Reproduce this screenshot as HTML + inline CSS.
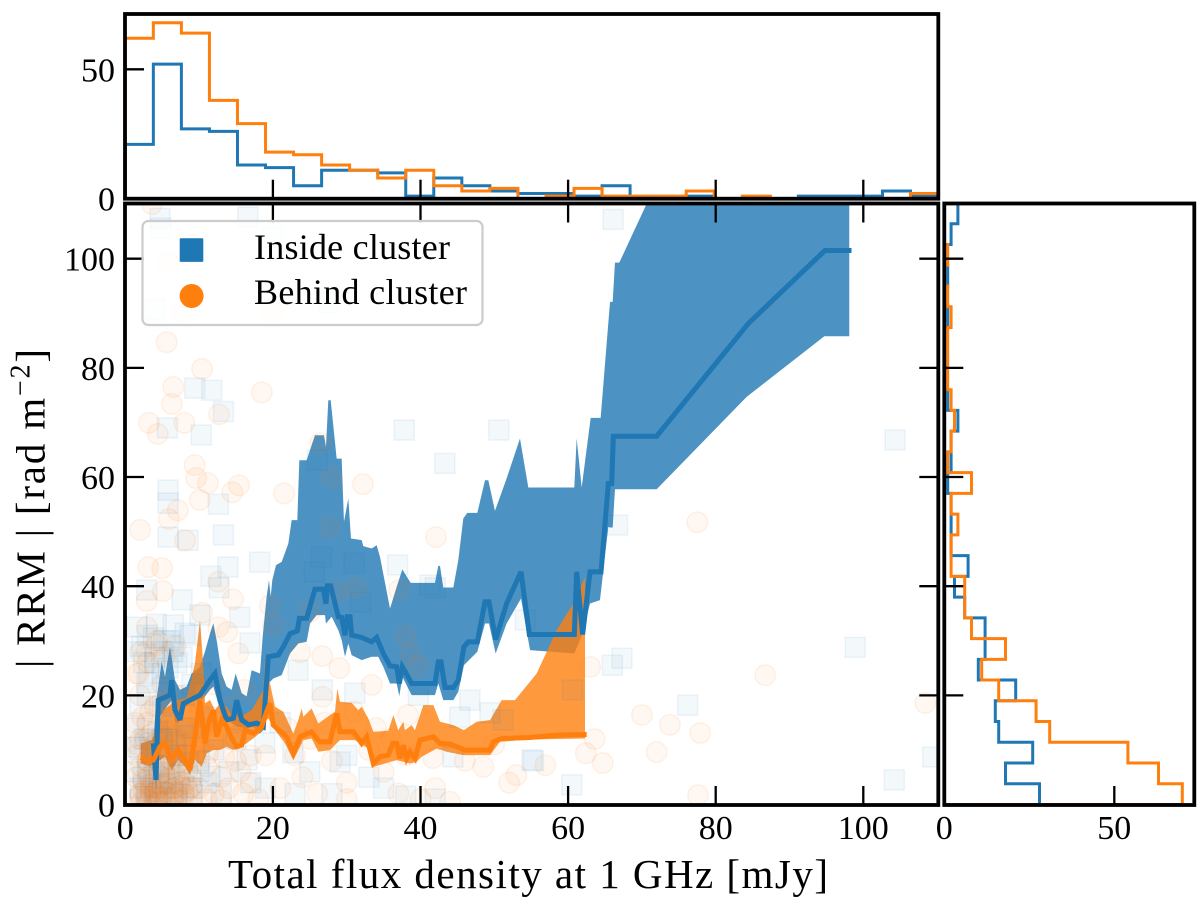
<!DOCTYPE html>
<html lang="en">
<head>
<meta charset="utf-8">
<title>RRM vs total flux density</title>
<style>
  html, body { margin: 0; padding: 0; background: #fff; }
  svg { display: block; font-family: "Liberation Serif", serif; }
  text { fill: #000; }
</style>
</head>
<body>
<svg id="chart" xmlns="http://www.w3.org/2000/svg" width="1200" height="898" viewBox="0 0 1200 898">
  <defs>
    <clipPath id="clip-main"><rect x="125" y="203.5" width="813.3" height="601.5"/></clipPath>
    <clipPath id="clip-top"><rect x="125" y="14" width="813.3" height="184.7"/></clipPath>
    <clipPath id="clip-right"><rect x="944.3" y="203.5" width="250" height="601.5"/></clipPath>
  </defs>
  <g id="main-bands" clip-path="url(#clip-main)"></g>
  <g id="main-scatter" clip-path="url(#clip-main)"></g>
  <g id="main-lines" clip-path="url(#clip-main)"></g>
  <g id="top-hist" clip-path="url(#clip-top)"></g>
  <g id="right-hist" clip-path="url(#clip-right)"></g>
  <g id="ticks"></g>
  <g id="labels"></g>
  <g fill="none" stroke="#000" stroke-width="3.8">
    <rect x="125" y="14" width="813.3" height="184.7"/>
    <rect x="125" y="203.5" width="813.3" height="601.5"/>
    <rect x="944.3" y="203.5" width="250" height="601.5"/>
  </g>
  <g>
    <rect x="142.5" y="221" width="340" height="104" rx="6" fill="#fff" fill-opacity="0.8" stroke="#ccc" stroke-width="2.2"/>
    <rect x="179.7" y="238.3" width="23.6" height="23.6" rx="1" fill="#1f77b4"/>
    <text x="254" y="259" font-size="36" textLength="196">Inside cluster</text>
    <circle cx="191.6" cy="296" r="12" fill="#ff7f0e"/>
    <text x="254" y="304" font-size="36" textLength="213">Behind cluster</text>
  </g>
  <text x="228" y="888" font-size="41" textLength="600">Total flux density at 1 GHz [mJy]</text>
  <text transform="translate(44.5,668) rotate(-90)" font-size="41" textLength="319">| RRM | [rad m<tspan font-size="28" dy="-15">−2</tspan><tspan dy="15">]</tspan></text>
</svg>
<script>
const SVGNS = 'http://www.w3.org/2000/svg';

// ---- Data: histograms ----
const fluxHistInside = [21,52,27,26,13,12,5,11,11,10,1,8,5,3,2,2,1,5,0,0,1,0,0,0,1,1,1,3,1];
const fluxHistBehind = [62,68,64,38,29,18,17,13,11,8,11,5,3,4,0,1,4,1,1,1,3,0,1,0,0,0,0,0,2];
const rrmHistInside = [28,18,26,16,15,21,10,12,12,6,3,7,2,2,2,1,2,2,4,1,0,0,0,1,0,1,0,2,4];
const rrmHistBehind = [70,63,54,31,27,16,11,18,8,6,6,2,2,4,2,8,1,2,3,2,1,1,1,2,1,0,1,0,0];

// ---- Data: running medians ----
const insideMedianFlux = [3.8,4.16,4.47,6.05,6.28,6.73,7.41,7.86,10.12,11.47,12.15,12.83,13.73,14.64,15.09,15.77,16.67,17.8,18.7,19.38,20.73,21.41,22.32,23.31,23.58,24.57,25.7,26.83,27.19,27.37,27.83,28.86,29.32,29.77,30.08,30.45,30.67,32.03,33.38,34.06,34.96,35.87,36.77,37.13,37.54,38.8,41.96,42.41,42.78,43.32,44.45,45.12,45.89,46.48,47.7,48.74,49.28,50.18,51.67,53.62,54.75,60.84,61.16,61.97,62.97,64.46,65.45,65.9,66.13,72,84.4,94.8,98.4];
const insideMedianRRM = [11.2,4.5,19.1,20.05,22.8,17.3,15.5,18.5,20.05,22.8,24,19.1,15.5,15.8,19.1,15.5,14.6,14.9,14.25,27.06,27.4,28.9,31.3,31.8,34.1,34.1,39.45,39.45,36.8,40.06,40.06,34.4,34.26,31.03,34.4,34.4,31.03,30.6,29.8,30.6,27.67,25.4,25.23,22.17,25.23,22.17,22.17,26.14,26.14,21.44,21.44,22.8,28.9,29.8,29.8,37.13,37.13,30.23,36.83,42.63,31.15,31.15,42.63,31.15,42.63,42.63,58.8,58.8,67.48,67.48,88.1,101.5,101.5];
const behindMedianFlux = [2.08,2.89,3.8,4.7,5.38,6.28,7.18,8.09,8.77,9.44,10.12,10.8,11.25,11.93,12.38,13.06,13.73,14.41,15.09,15.77,16.22,17.35,18.48,19.15,19.6,20.06,21.86,22.77,23.67,25.25,25.93,26.38,27.74,28.64,29.09,30.9,32.03,32.7,33.61,34.51,35.64,36.23,36.77,37.22,37.67,38.12,38.58,39.25,39.93,41.74,42.64,43.99,46.03,49.42,49.87,51,54.84,58.45,62.51];
const behindMedianRRM = [8.63,8.15,8.15,10.59,11.2,8.45,9.98,8.15,6.31,12.42,19.14,11.2,14.86,17.3,12.42,15.47,14.25,12.11,10.59,10.89,13.64,13.03,14.25,17,18.5,14.54,12.41,9.36,12.41,13.32,12.1,11.49,11.49,16.68,13.32,13.32,11.19,12.41,7.52,8.74,9.05,11.19,11.19,8.44,10.88,8.44,9.66,8.44,11.8,12.41,11.19,11.06,9.97,9.97,11.49,12.1,12.28,12.71,12.83];

// ---- Data: bands ----
const insideUpperFlux = [3.8,4.16,4.93,5.38,6.05,6.73,7.41,8.31,8.99,10.12,10.8,11.47,11.93,12.38,13.06,13.73,14.41,14.95,15.77,16.44,17.12,18.25,18.61,19.15,19.47,19.7,19.92,20.42,21.19,22.09,22.54,23.31,23.58,24.57,25.7,26.92,27.19,27.51,27.83,28.64,29.32,29.63,30.22,30.58,32.03,32.25,33.38,34.06,34.51,35.87,36.77,37.54,38.67,41.96,42.41,42.64,43.09,44.45,45.12,45.8,46.34,47.7,48.74,49.19,50.09,51.67,53.48,54.61,60.84,61.16,61.84,63.06,64.41,65.68,66.04,66.35,66.94,70.55,73,98.1];
const insideUpperRRM = [11.2,18.5,26.2,23.4,28.9,22.8,21,21.6,24,25.2,28,31.3,33.2,30.1,24,21.6,21,24,20.4,19.8,24.6,24,30.7,38.05,41.1,38.05,41.1,43.85,44.46,47.8,52.1,52.1,63.08,63.08,67.66,67.66,65.52,74.07,74.07,63.38,63.38,51.79,56.06,48.73,48.43,47.33,46.9,47.5,45.38,35.9,39.88,43.05,40.61,40.61,43.73,43.73,39.76,39.76,44.76,52.4,53.43,53.43,59.42,59.42,53.8,59.72,67.05,58.07,58.07,67.05,58.07,70.83,70.83,92.08,92.08,99.28,99.28,109.8,115,115];
const insideLowerFlux = [3.8,4.16,4.7,5.6,6.28,6.73,7.18,7.64,8.99,10.57,11.47,11.93,12.6,13.28,14.18,15.09,16.44,17.35,18.25,18.7,19.38,20.06,21.19,22.32,23.44,24.57,25.03,25.93,27.06,27.19,27.96,28.86,29.32,29.77,30.22,30.67,32.03,33.38,34.28,34.96,35.87,36.77,37.13,37.54,38.8,41.96,42.41,43.09,44.45,45.12,45.89,47.7,48.74,49.28,50.18,51.67,53.62,54.84,60.84,61.97,62.97,64.32,65.45,65.68,66.04,66.35,72,84.19,94.72,98.1];
const insideLowerRRM = [11.2,2.65,16.1,17.9,19.1,15.2,14.9,17.3,18.8,19.4,21,21.6,18.5,15.5,15.2,14.25,13.95,14.25,13,13.6,22.18,23.09,23.7,27.67,29.5,29.81,33.16,34.69,34.69,33.16,34.39,31.94,30.11,27.06,29.5,27.37,26.45,27.06,27.06,25.23,22.18,22.18,19.86,23.4,20.04,20.04,22.18,19.12,19.12,20.65,25.53,27.98,33.16,33.16,27.67,33.16,37.74,28.28,27.67,31.33,36.83,37.44,50.87,50.75,50.75,57.77,57.77,74.68,85.79,85.79];
const behindUpperFlux = [2.08,3.57,5.15,6.96,8.31,9.44,10.12,10.48,10.8,11.47,12.15,12.83,13.73,14.64,15.99,17.12,18.7,18.93,19.61,20.28,21.41,22.77,23.44,23.9,24.12,25.25,26.15,27.74,28.41,28.73,29.09,30.67,31.57,32.03,32.93,33.61,35.64,36.32,36.99,37.67,37.9,38.8,39.25,40.38,41.74,42.64,44.45,45.89,47.61,49.42,51,52.8,55.74,58.45,60.71,62.29];
const behindUpperRRM = [11.2,11.8,17.3,19.14,19.44,25.85,33.79,27.07,18.53,19.14,17.3,18.53,17.91,16.08,16.39,17.3,20.97,26.45,22.18,17.9,17,13.02,15.46,17.6,16.07,17.6,14.85,16.38,16.99,21.26,18.82,18.63,17.29,17.9,15.77,13.32,13.51,16.38,13.63,15.16,13.63,14.54,13.63,18.21,18.21,15.16,14.54,13.63,15.16,15.46,19.12,19.12,24.01,31.94,36.83,41.71];
const behindLowerFlux = [2.08,3.35,5.38,6.28,7.18,8.09,8.77,9.44,10.35,11.02,11.93,12.83,13.73,14.64,15.77,17.35,18.7,19.15,19.38,20.28,21.64,22.77,24.12,25.25,26.15,27.74,28.64,29.09,31.12,32.93,33.61,36.77,38.58,39.48,40.16,42.19,43.54,45.8,49.42,50.77,54.84,62.29];
const behindLowerRRM = [7.54,6.93,8.76,6.31,8.15,6.93,5.4,8.15,6.93,9.37,9.98,9.98,10.59,9.98,10.59,12.11,13.64,15.47,15.77,13.63,11.19,8.13,11.8,12.1,9.66,9.97,11.19,11.8,11.8,10.27,6.91,8.13,7.52,7.83,8.74,10.27,9.66,9.05,9.05,11.49,11.92,12.1];

// ---- Data: individual sources ----
const insideFlux = [104.3,98.9,104.2,109.4,76.2,67.3,66,66.7,60.5,55.3,50.6,43.3,37.8,36.9,42,26.6,31,18.2,66.1,16.6,4.7,4.8,19.9,4,27.5,9.4,11.7,13.3,5.7,10.3,26,5.8,5.8,12.6,13.3,8.5,5.8,13.9,11.6,12.7,2.9,7.7,10.1,15.5,1.6,6.5,8.1,3.8,16.9,2.9,23.4,26.7,25.6,41.3,31.9,54.2,22.7,18.9,29.1,44.4,55.1,46.7,45.3,49.4,39.7,31.1,51.2,60.6,16.5,1.5,2.5,4,5,6,7,3,5,8,2,1.2,3,6,9,2,3.5,5,7,9,11,1.5,3,4.5,6,8,10,12,14,2,3,4,5,7,9,11,13,15,17,19,21,23,25,28,30,33,35,38,42,
  2,2.8,3.4,4.1,4.8,5.5,6.2,7,7.9,9.1,2.4,3.1,3.9,4.6,5.3,6.1,7.2,8.5,10,11.5,1.7,2.6,3.3,4.4,5.7,6.8,8.3,3.2,4,4.9,5.8,6.6,7.7,8.8,10.3,2.2,3,4.2,5.2,6.4];
const insideRRM = [66.8,28.8,4.5,8.7,18.2,26.8,25.5,51.2,3.6,8,68.6,62.5,68.6,43.9,39.7,45.3,44.2,44.4,107.2,107.6,107.4,105.6,103.9,90.7,92,76.3,75.9,72,69,67.7,63.1,57.6,55.2,55,49.4,48.4,49,43.5,41.8,39.7,39.3,37.5,34.7,34.3,32.5,32.9,31.4,30.5,29.6,22.3,24.6,21,42.6,40.2,37.1,33.8,9.5,11.3,7.8,8.7,8.2,19.1,16,16.8,20,20.4,15.5,21,8.2,28,26,27,24,30,26,20,18,20,18,14,14,15,22,10,10,12,9,14,16,6,6,5,4,6,8,10,6,3,2,1.5,3,2,3,4,2,12,4,3,15,2,6,2,9,5,3,1.5,1,
  1,2,3.2,2.4,1.2,3.8,2.2,1.4,3.1,1.8,5,6.5,7.2,5.8,8,7,5.4,7.6,6,5.2,10.5,12,11.2,13.4,12,11,12.6,24,26,28,25,29,27,31,24,29,31,33,30,28];
const behindFlux = [3.6,5.8,7.7,19.9,5.6,10.4,6.5,18.5,6.3,3.2,4.4,8,12.7,26.4,9.4,9.6,11.2,15.4,14.5,10.1,21.5,27.9,7.1,5.9,2,27.7,8.1,3.1,5,12.6,5.1,2.9,14.6,10.4,19.6,12.6,20,2.9,13.8,2,4.3,15.3,26.7,23.7,29,16.2,26.7,28.8,25,32.2,42.1,31.3,37.9,38.6,39.7,37.1,33.4,63,63.6,62.4,64.7,38.3,41.7,48.5,77.5,86.7,108.4,70,73.8,77.9,72,77.6,56.9,53,22,25,28,24,30,33,35,37,40,42,44,30,26,21,19,23,36,38,46,50,52,31,27,34,1.5,3,5,7,2,4,6,1.3,3,8,10,12,14,2,4,6,8,10,12,15,17,1.5,3,5,7,9,11,13,15,17,1.5,2.5,3.5,4.5,5.5,6.5,8,10,12,14,16,18,2,2.8,3.5,4.2,5,5.8,6.5,7.5,9,11,13,2.2,3.3,4.4,5.5,
  2,2.5,3,3.5,4,4.5,5,5.5,6,6.5,7,7.5,8,8.5,9,2.4,3.2,3.8,4.6,5.2,5.9,6.7,7.3,8.2,2.1,3,4.1,5.1,6.2,7.1,8.4,9.6,1.6,2.7,3.6,4.9,6,7.6,9.2,11.2,13.4,15.6,2.3,3.4,4.7,5.6,8.8,10.4,12.5,14.7,1.8,2.9,4.3,5.3,6.8];
const behindRRM = [110,99.4,90.2,90.6,84.7,79.8,76.5,75.5,73.4,69.9,67.9,69.9,71.5,66.2,62.2,59.8,58.9,58.5,57.2,55.8,57,60,53.9,52.3,50.3,50.8,48.4,43.5,43.3,40.8,39.1,37.3,37.6,35.1,36.5,32.5,32.9,32.5,31.6,27.9,29.2,27.7,27.2,27.9,25,21,19.7,38.9,35.3,58.7,49,39.7,30.9,27.7,25.4,39.3,21.9,25.2,12,9.4,7.6,16.4,8.5,6.9,51.7,23.7,18.6,16.4,14.6,13.1,9.6,1.7,7.2,5.4,14,12,8,5,4,10,6,2,1,3,0.5,1,2,3,9,9,12,9,8,11,4,17,15,14,24,26,22,20,20,18,16,15,15,14,17,22,18,12,11,10,9,11,12,15,9,9,8,7,6,5,7,5,8,4,5,4,3.5,3,4,3,2,3,2,3,2,1,2,1.5,2,1,2,1,1.5,0.8,1,1,0.8,0.5,0.7,0.4,0.6,
  1.5,2.5,1,3,2,1.2,3.4,2.2,1,3,2,3.5,1.3,2.6,3.2,4.5,5,4,5.4,6,4.8,5.5,4.2,3.8,7,8,7.5,6.8,8.2,7.6,6.4,8.8,11,12,13,12.5,13.4,11.6,10.4,9.2,8.6,6,16,17,18.4,19,16.6,14,15,12.4,24,28,30,27,29];

// ---- Data: tick values ----
const mainXTicks = [0,20,40,60,80,100];
const mainYTicks = [0,20,40,60,80,100];
const topHistYTicks = [0,50];
const rightHistXTicks = [0,50];

const BLUE = '#1f77b4';
const ORANGE = '#ff7f0e';
const LIMIT = 110.2;

// ---- Axis functions ----
function xMain(v) { return 125.3 + v * 7.38; }
function yMain(v) { return 804.5 - v * 5.458; }
function yTop(v) { return 198.7 - v * 2.588; }
function xRight(v) { return 944.3 + v * 3.4; }

function make(tag, attrs, parent) {
  const el = document.createElementNS(SVGNS, tag);
  for (const k in attrs) el.setAttribute(k, attrs[k]);
  parent.appendChild(el);
  return el;
}
function pts(xs, ys) {
  return xs.map(function (x, i) { return xMain(x).toFixed(2) + ',' + yMain(ys[i]).toFixed(2); });
}

// ---- Bands ----
const bands = document.getElementById('main-bands');
function band(upX, upY, loX, loY, color, name) {
  const p = pts(upX, upY).concat(pts(loX, loY).reverse());
  const el = make('polygon', { points: p.join(' '), fill: color, 'fill-opacity': 0.8 }, bands);
  
  
}
band(insideUpperFlux, insideUpperRRM, insideLowerFlux, insideLowerRRM, BLUE, 'inside-cluster-band');
band(behindUpperFlux, behindUpperRRM, behindLowerFlux, behindLowerRRM, ORANGE, 'behind-cluster-band');

// ---- Scatter ----
const scatter = document.getElementById('main-scatter');
insideFlux.forEach(function (x, i) {
  const s = 20;
  const el = make('rect', {
    x: xMain(x) - s / 2, y: yMain(insideRRM[i]) - s / 2, width: s, height: s,
    fill: BLUE, 'fill-opacity': 0.055, stroke: BLUE, 'stroke-opacity': 0.07, 'stroke-width': 1.5
  }, scatter);
  
  
});
behindFlux.forEach(function (x, i) {
  const el = make('circle', {
    cx: xMain(x), cy: yMain(behindRRM[i]), r: 10.3,
    fill: ORANGE, 'fill-opacity': 0.06, stroke: ORANGE, 'stroke-opacity': 0.09, 'stroke-width': 1.5
  }, scatter);
  
  
});

// ---- Median lines ----
const lines = document.getElementById('main-lines');
const insideLine = make('polyline', { points: pts(insideMedianFlux, insideMedianRRM).join(' '), fill: 'none', stroke: BLUE, 'stroke-width': 5, 'stroke-linejoin': 'miter', 'stroke-miterlimit': 3 }, lines);


const behindLine = make('polyline', { points: pts(behindMedianFlux, behindMedianRRM).join(' '), fill: 'none', stroke: ORANGE, 'stroke-width': 5, 'stroke-linejoin': 'miter', 'stroke-miterlimit': 3 }, lines);



// ---- Histograms ----
function topSteps(values) {
  const w = LIMIT / values.length;
  let d = 'M' + xMain(0) + ',' + yTop(0);
  values.forEach(function (v, i) {
    d += 'L' + xMain(i * w).toFixed(2) + ',' + yTop(v).toFixed(2);
    d += 'L' + xMain((i + 1) * w).toFixed(2) + ',' + yTop(v).toFixed(2);
  });
  return d + 'L' + xMain(LIMIT) + ',' + yTop(0);
}
function rightSteps(values) {
  const w = LIMIT / values.length;
  let d = 'M' + xRight(0) + ',' + yMain(0);
  values.forEach(function (v, i) {
    d += 'L' + xRight(v).toFixed(2) + ',' + yMain(i * w).toFixed(2);
    d += 'L' + xRight(v).toFixed(2) + ',' + yMain((i + 1) * w).toFixed(2);
  });
  return d + 'L' + xRight(0) + ',' + yMain(LIMIT);
}
const topG = document.getElementById('top-hist');
const topInside = make('path', { d: topSteps(fluxHistInside), fill: 'none', stroke: BLUE, 'stroke-width': 3 }, topG);


const topBehind = make('path', { d: topSteps(fluxHistBehind), fill: 'none', stroke: ORANGE, 'stroke-width': 3 }, topG);


const rightG = document.getElementById('right-hist');
const rightInside = make('path', { d: rightSteps(rrmHistInside), fill: 'none', stroke: BLUE, 'stroke-width': 3 }, rightG);


const rightBehind = make('path', { d: rightSteps(rrmHistBehind), fill: 'none', stroke: ORANGE, 'stroke-width': 3 }, rightG);



// ---- Ticks ----
const ticksG = document.getElementById('ticks');
const TICK = 19;
function tick(x1, y1, x2, y2) {
  const el = make('line', { x1: x1, y1: y1, x2: x2, y2: y2, stroke: '#000', 'stroke-width': 2.3 }, ticksG);
  
  
}
mainXTicks.forEach(function (v) {
  const x = xMain(v);
  tick(x, 805, x, 805 - TICK);
  tick(x, 203.5, x, 203.5 + TICK);
  tick(x, 198.7, x, 198.7 - TICK);
});
mainYTicks.forEach(function (v) {
  const y = yMain(v);
  tick(125, y, 125 + TICK, y);
  tick(938.3, y, 938.3 - TICK, y);
  tick(944.3, y, 944.3 + TICK, y);
});
topHistYTicks.forEach(function (v) {
  tick(125, yTop(v), 125 + TICK, yTop(v));
});
rightHistXTicks.forEach(function (v) {
  tick(xRight(v), 805, xRight(v), 805 - TICK);
});

// ---- Tick labels ----
const labelsG = document.getElementById('labels');
function label(str, x, y, anchor, name) {
  const el = make('text', { x: x, y: y, 'text-anchor': anchor, 'font-size': 34 }, labelsG);
  el.textContent = str;
  
  
}
mainXTicks.forEach(function (v) { label(String(v), xMain(v), 839, 'middle', 'x-tick-label'); });
mainYTicks.forEach(function (v) { label(String(v), 115, yMain(v) + 12, 'end', 'y-tick-label'); });
topHistYTicks.forEach(function (v) { label(String(v), 115, yTop(v) + 12, 'end', 'top-histogram-y-tick-label'); });
rightHistXTicks.forEach(function (v) { label(String(v), xRight(v), 839, 'middle', 'right-histogram-x-tick-label'); });
</script>
</body>
</html>
